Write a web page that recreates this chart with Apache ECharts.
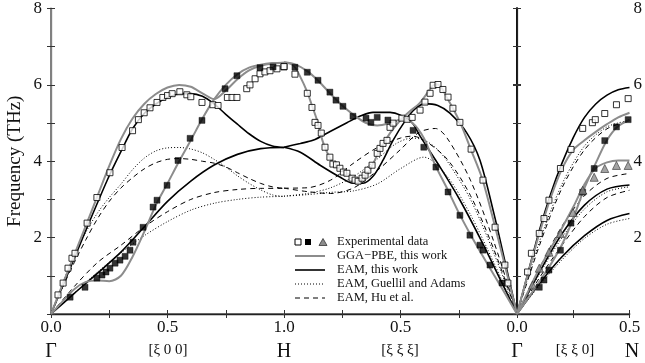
<!DOCTYPE html>
<html>
<head>
<meta charset="utf-8">
<script src="https://cdn.jsdelivr.net/npm/echarts@6/dist/echarts.min.js"></script>
<style>
  html, body { margin: 0; padding: 0; background: #fff; }
  #chart { width: 645px; height: 363px; }
</style>
</head>
<body>
<div id="chart"></div>
<script>
// ---- data: frequency (THz) vs reduced wave vector xi ----
// panel 1: Gamma -> H, [xi 0 0]
const ggaL_GH = [[0,0],[0.05,0.78],[0.1,1.55],[0.15,2.32],[0.2,3.1],[0.25,3.88],[0.3,4.58],[0.35,5.12],[0.4,5.5],[0.45,5.76],[0.5,5.93],[0.55,6.0],[0.6,5.95],[0.65,5.78],[0.7,5.63],[0.75,5.85],[0.8,6.15],[0.85,6.38],[0.9,6.5],[0.95,6.56],[1,6.58]];
const ggaT_GH = [[0,0],[0.05,0.33],[0.1,0.65],[0.15,0.84],[0.2,0.88],[0.25,0.86],[0.3,1.0],[0.35,1.5],[0.4,2.15],[0.45,2.85],[0.5,3.42],[0.55,4.0],[0.6,4.55],[0.65,5.12],[0.7,5.62],[0.75,6.0],[0.8,6.28],[0.85,6.45],[0.9,6.53],[0.95,6.57],[1,6.58]];
const eamL_GH = [[0,0],[0.05,0.73],[0.1,1.46],[0.15,2.2],[0.2,2.92],[0.25,3.62],[0.3,4.25],[0.35,4.85],[0.4,5.25],[0.45,5.5],[0.5,5.67],[0.55,5.76],[0.6,5.77],[0.65,5.7],[0.7,5.5],[0.75,5.23],[0.8,4.97],[0.85,4.72],[0.9,4.52],[0.95,4.4],[1,4.36]];
const eamT_GH = [[0,0],[0.1,0.54],[0.2,1.07],[0.3,1.62],[0.4,2.28],[0.5,2.95],[0.6,3.48],[0.7,3.9],[0.8,4.18],[0.9,4.33],[1,4.36]];
const guL_GH = [[0,0],[0.05,0.8],[0.1,1.55],[0.15,2.15],[0.2,2.65],[0.25,3.05],[0.3,3.4],[0.35,3.78],[0.4,4.08],[0.45,4.27],[0.5,4.35],[0.55,4.36],[0.6,4.32],[0.65,4.22],[0.7,4.05],[0.75,3.85],[0.8,3.62],[0.85,3.42],[0.9,3.25],[0.95,3.12],[1,3.08]];
const guT_GH = [[0,0],[0.1,0.55],[0.2,1.1],[0.3,1.6],[0.4,2.05],[0.5,2.42],[0.6,2.72],[0.7,2.9],[0.8,3.0],[0.9,3.06],[1,3.08]];
const huL_GH = [[0,0],[0.05,0.7],[0.1,1.35],[0.15,1.95],[0.2,2.5],[0.25,2.95],[0.3,3.3],[0.35,3.57],[0.4,3.8],[0.45,3.96],[0.5,4.05],[0.55,4.07],[0.6,4.05],[0.65,4.0],[0.7,3.95],[0.75,3.85],[0.8,3.7],[0.85,3.55],[0.9,3.42],[0.95,3.33],[1,3.29]];
const huT_GH = [[0,0],[0.1,0.72],[0.2,1.35],[0.3,1.8],[0.4,2.28],[0.5,2.68],[0.6,3.0],[0.7,3.18],[0.8,3.26],[0.9,3.29],[1,3.29]];
const expL_GH = [[0.03,0.5],[0.052,0.81],[0.073,1.2],[0.09,1.46],[0.103,1.59],[0.155,2.38],[0.197,3.05],[0.253,3.7],[0.305,4.36],[0.35,4.8],[0.375,5.09],[0.4,5.27],[0.425,5.4],[0.455,5.54],[0.48,5.67],[0.5,5.72],[0.52,5.77],[0.553,5.82],[0.583,5.74],[0.6,5.69],[0.648,5.54],[0.695,5.48],[0.717,5.46],[0.757,5.67],[0.777,5.67],[0.798,5.67],[0.84,5.9],[0.854,6.0],[0.876,6.16],[0.897,6.29],[0.918,6.34],[0.94,6.37],[0.97,6.42],[1,6.47]];
const expT_GH = [[0.082,0.44],[0.146,0.7],[0.197,0.94],[0.219,1.02],[0.236,1.1],[0.253,1.2],[0.275,1.33],[0.296,1.41],[0.318,1.51],[0.339,1.67],[0.352,1.88],[0.395,2.27],[0.438,2.8],[0.455,2.98],[0.498,3.37],[0.545,4.02],[0.597,4.6],[0.648,5.07],[0.747,5.9],[0.798,6.24],[0.897,6.45],[0.953,6.47]];

// panel 2: H -> Gamma, [xi xi xi]
const ggaL_HG = [[1,6.58],[0.96,6.5],[0.93,6.2],[0.9,5.8],[0.88,5.45],[0.86,5.1],[0.833,4.5],[0.8,4.05],[0.76,3.78],[0.73,3.68],[0.7,3.55],[0.674,3.5],[0.65,3.6],[0.62,3.9],[0.59,4.28],[0.545,4.73],[0.5,5.07],[0.46,5.3],[0.42,5.5],[0.38,5.82],[0.36,5.98],[0.34,6.0],[0.32,5.88],[0.3,5.65],[0.275,5.38],[0.24,4.95],[0.2,4.33],[0.15,3.55],[0.116,2.8],[0.08,1.95],[0.04,0.98],[0,0]];
const ggaT_HG = [[1,6.58],[0.95,6.52],[0.9,6.35],[0.85,6.08],[0.8,5.75],[0.75,5.45],[0.7,5.2],[0.65,5.0],[0.6,4.93],[0.55,4.98],[0.5,5.08],[0.45,5.0],[0.4,4.6],[0.35,3.88],[0.3,3.28],[0.25,2.65],[0.2,2.08],[0.15,1.55],[0.1,1.03],[0.05,0.52],[0,0]];
const eamL_HG = [[1,4.36],[0.93,4.23],[0.845,3.89],[0.76,3.58],[0.704,3.42],[0.661,3.42],[0.618,3.6],[0.575,4.02],[0.532,4.54],[0.48,5.05],[0.44,5.35],[0.395,5.5],[0.34,5.45],[0.288,5.25],[0.215,4.73],[0.159,4.02],[0.1,2.65],[0.05,1.33],[0,0]];
const eamT_HG = [[1,4.36],[0.93,4.46],[0.876,4.54],[0.8,4.78],[0.73,5.0],[0.67,5.18],[0.618,5.27],[0.545,5.27],[0.5,5.2],[0.45,5.0],[0.416,4.65],[0.33,3.84],[0.245,2.98],[0.15,1.88],[0.07,0.88],[0,0]];
const guL_HG = [[1,3.08],[0.9,3.15],[0.8,3.3],[0.7,3.6],[0.6,4.05],[0.52,4.45],[0.45,4.6],[0.4,4.55],[0.35,4.35],[0.3,4.0],[0.2,3.0],[0.1,1.6],[0,0]];
const guT_HG = [[1,3.08],[0.9,3.12],[0.8,3.18],[0.7,3.22],[0.6,3.4],[0.5,3.8],[0.4,4.1],[0.3,3.6],[0.2,2.6],[0.1,1.35],[0,0]];
const huL_HG = [[1,3.29],[0.9,3.3],[0.8,3.5],[0.7,3.95],[0.6,4.35],[0.5,4.6],[0.45,4.65],[0.4,4.55],[0.3,4.05],[0.2,3.1],[0.1,1.7],[0,0]];
const huT_HG = [[1,3.29],[0.9,3.2],[0.8,3.15],[0.7,3.3],[0.6,3.75],[0.5,4.3],[0.42,4.75],[0.35,4.85],[0.3,4.6],[0.2,3.5],[0.1,1.9],[0,0]];
const expL_HG = [[1,6.47],[0.953,6.27],[0.9,5.77],[0.88,5.4],[0.867,5.01],[0.854,4.93],[0.84,4.73],[0.824,4.36],[0.803,4.1],[0.79,3.92],[0.775,3.9],[0.76,3.81],[0.745,3.71],[0.73,3.68],[0.708,3.55],[0.695,3.5],[0.682,3.47],[0.665,3.55],[0.652,3.63],[0.64,3.76],[0.622,3.89],[0.6,4.2],[0.588,4.33],[0.575,4.46],[0.558,4.54],[0.545,4.88],[0.532,4.99],[0.494,5.12],[0.472,5.09],[0.45,5.14],[0.416,5.33],[0.395,5.54],[0.373,5.77],[0.36,5.98],[0.339,6.0],[0.318,5.87],[0.296,5.67],[0.275,5.38],[0.245,5.01],[0.197,4.31],[0.146,3.5],[0.094,2.27],[0.052,1.28],[0.039,0.81]];
const expT_HG = [[0.953,6.45],[0.9,6.32],[0.854,6.11],[0.803,5.8],[0.777,5.59],[0.747,5.43],[0.704,5.17],[0.648,5.12],[0.627,5.01],[0.6,5.14],[0.554,5.07],[0.446,4.8],[0.4,4.36],[0.348,3.84],[0.296,3.19],[0.245,2.58],[0.202,2.06],[0.159,1.8],[0.146,1.67],[0.116,1.28],[0.064,0.81]];

// panel 3: Gamma -> N, [xi xi 0]
const ggaL_GN = [[0,0],[0.05,1.08],[0.1,2.12],[0.15,3.05],[0.2,3.8],[0.25,4.3],[0.3,4.55],[0.35,4.77],[0.4,4.97],[0.45,5.15],[0.5,5.27]];
const ggaT2_GN = [[0,0],[0.05,0.42],[0.1,0.85],[0.15,1.3],[0.2,1.82],[0.25,2.5],[0.3,3.3],[0.35,3.95],[0.4,4.55],[0.45,4.92],[0.5,5.08]];
const ggaT1_GN = [[0,0],[0.05,0.6],[0.1,1.2],[0.15,1.72],[0.2,2.25],[0.25,2.8],[0.3,3.4],[0.35,3.82],[0.4,3.97],[0.45,4.02],[0.5,4.02]];
const eamL_GN = [[0,0],[0.05,1.1],[0.1,2.2],[0.15,3.15],[0.2,3.95],[0.25,4.62],[0.3,5.15],[0.35,5.5],[0.4,5.73],[0.45,5.87],[0.5,5.93]];
const eamT2_GN = [[0,0],[0.1,1.1],[0.2,2.1],[0.3,2.85],[0.4,3.27],[0.5,3.38]];
const eamT1_GN = [[0,0],[0.1,0.8],[0.2,1.5],[0.3,2.05],[0.4,2.45],[0.5,2.63]];
const guL_GN = [[0,0],[0.1,1.9],[0.2,3.4],[0.3,4.4],[0.4,4.9],[0.5,5.07]];
const guT2_GN = [[0,0],[0.1,1.05],[0.2,2.0],[0.3,2.75],[0.4,3.2],[0.5,3.33]];
const guT1_GN = [[0,0],[0.1,0.75],[0.2,1.42],[0.3,1.98],[0.4,2.35],[0.5,2.5]];
const huL_GN = [[0,0],[0.1,1.8],[0.2,3.3],[0.3,4.3],[0.4,4.85],[0.5,5.05]];
const huT2_GN = [[0,0],[0.1,1.2],[0.2,2.3],[0.3,3.1],[0.4,3.55],[0.5,3.68]];
const huT1_GN = [[0,0],[0.1,0.95],[0.2,1.8],[0.3,2.55],[0.4,3.05],[0.5,3.24]];
const expL_GN = [[0.047,1.1],[0.064,1.59],[0.099,2.11],[0.12,2.5],[0.142,2.98],[0.193,3.81],[0.24,4.31],[0.292,4.86],[0.335,5.01],[0.348,5.09],[0.39,5.25],[0.442,5.48],[0.494,5.64]];
const expT2_GN = [[0.099,0.7],[0.12,0.89],[0.142,1.15],[0.193,1.67],[0.24,2.38],[0.292,3.19],[0.343,3.81],[0.39,4.54],[0.442,4.9],[0.494,5.09]];
const expT1_GN = [[0.069,0.76],[0.099,1.2],[0.142,1.62],[0.193,2.11],[0.249,2.66],[0.292,3.24],[0.343,3.58],[0.39,3.81],[0.442,3.89],[0.494,3.89]];

const yTicks = [2, 4, 6, 8];
const FONT = '"Liberation Serif", "DejaVu Serif", serif';

// ---- styles ----
const GGA = { color: '#8c8c8c', width: 2 };
const EAM = { color: '#000', width: 1.6 };
const GUE = { color: '#000', width: 1, type: [1, 2] };
const HU = { color: '#000', width: 1, type: [5, 4] };

const grids = [
  { left: 51, top: 8, width: 233, height: 306 },
  { left: 284, top: 8, width: 233, height: 306 },
  { left: 517, top: 8, width: 116, height: 306 }
];

// bottom + top x axes for each panel
const panelX = [
  { max: 1, inverse: false, labels: [0, 0.5] },
  { max: 1, inverse: true, labels: [1, 0.5] },
  { max: 0.5, inverse: false, labels: [0, 0.5] }
];
const xAxis = [];
panelX.forEach((p, i) => {
  xAxis.push({
    type: 'value', gridIndex: i, min: 0, max: p.max, interval: 0.25, inverse: p.inverse,
    position: 'bottom',
    axisLine: { lineStyle: { color: '#808080', width: 2 } },
    axisTick: { inside: true, length: 4, lineStyle: { color: '#333' } },
    axisLabel: {
      showMinLabel: true, showMaxLabel: true, margin: 5,
      color: '#111', fontFamily: FONT, fontSize: 17,
      formatter: v => p.labels.indexOf(v) >= 0 ? v.toFixed(1) : ''
    },
    splitLine: { show: false }
  });
  xAxis.push({
    type: 'value', gridIndex: i, min: 0, max: p.max, interval: 0.25, inverse: p.inverse,
    position: 'top',
    axisLine: { lineStyle: { color: '#222', width: 1.3 } },
    axisTick: { inside: true, length: 4, lineStyle: { color: '#333' } },
    axisLabel: { show: false },
    splitLine: { show: false }
  });
});

// left + right y axes for each panel
const edgeStyle = [
  [{ color: '#222', width: 1.2 }, { color: '#808080', width: 2 }],
  [{ color: '#808080', width: 2 }, { color: '#111', width: 1.6 }],
  [{ color: '#111', width: 1.6 }, { color: '#222', width: 1.2 }]
];
const yAxis = [];
grids.forEach((g, i) => {
  ['left', 'right'].forEach((pos, k) => {
    const labelled = (i === 0 && k === 0) || (i === 2 && k === 1);
    yAxis.push({
      type: 'value', gridIndex: i, min: 0, max: 8, interval: 1, position: pos,
      name: (i === 0 && k === 0) ? 'Frequency (THz)' : '',
      nameLocation: 'middle', nameGap: 26, nameRotate: 90,
      nameTextStyle: { fontFamily: FONT, fontSize: 19, color: '#111' },
      axisLine: { show: true, lineStyle: edgeStyle[i][k] },
      axisTick: { inside: true, length: 4, lineStyle: { color: '#333' } },
      axisLabel: {
        show: labelled, margin: k === 0 ? 9 : 4, color: '#111', fontFamily: FONT, fontSize: 17,
        formatter: v => yTicks.indexOf(v) >= 0 ? String(v) : ''
      },
      splitLine: { show: false }
    });
  });
});

function line(data, panel, style) {
  return {
    type: 'line', xAxisIndex: panel * 2, yAxisIndex: panel * 2, data: data,
    smooth: 0.3, symbol: 'none', lineStyle: style, silent: true, z: 2
  };
}
function points(data, panel, kind) {
  const s = {
    open: { symbol: 'rect', size: 6, item: { color: '#fff', borderColor: '#000', borderWidth: 1 } },
    filled: { symbol: 'rect', size: 6, item: { color: '#000', borderColor: '#000', borderWidth: 0.5 } },
    tri: { symbol: 'triangle', size: 8, item: { color: '#8c8c8c', borderColor: '#333', borderWidth: 0.8 } }
  }[kind];
  return {
    type: 'scatter', xAxisIndex: panel * 2, yAxisIndex: panel * 2, data: data,
    symbol: s.symbol, symbolSize: s.size, itemStyle: s.item, silent: true, z: 5
  };
}

const series = [
  line(guL_GH, 0, GUE), line(guT_GH, 0, GUE), line(huL_GH, 0, HU), line(huT_GH, 0, HU),
  line(eamL_GH, 0, EAM), line(eamT_GH, 0, EAM), line(ggaL_GH, 0, GGA), line(ggaT_GH, 0, GGA),
  points(expL_GH, 0, 'open'), points(expT_GH, 0, 'filled'),

  line(guL_HG, 1, GUE), line(guT_HG, 1, GUE), line(huL_HG, 1, HU), line(huT_HG, 1, HU),
  line(eamL_HG, 1, EAM), line(eamT_HG, 1, EAM), line(ggaL_HG, 1, GGA), line(ggaT_HG, 1, GGA),
  points(expL_HG, 1, 'open'), points(expT_HG, 1, 'filled'),

  line(guL_GN, 2, GUE), line(guT2_GN, 2, GUE), line(guT1_GN, 2, GUE),
  line(huL_GN, 2, HU), line(huT2_GN, 2, HU), line(huT1_GN, 2, HU),
  line(eamL_GN, 2, EAM), line(eamT2_GN, 2, EAM), line(eamT1_GN, 2, EAM),
  line(ggaL_GN, 2, GGA), line(ggaT2_GN, 2, GGA), line(ggaT1_GN, 2, GGA),
  points(expL_GN, 2, 'open'), points(expT2_GN, 2, 'filled'), points(expT1_GN, 2, 'tri')
];

// legend and point labels drawn as graphics
const legendRows = [
  { text: 'Experimental data', style: null },
  { text: 'GGA\u2212PBE, this work', style: GGA },
  { text: 'EAM, this work', style: EAM },
  { text: 'EAM, Guellil and Adams', style: GUE },
  { text: 'EAM, Hu et al.', style: HU }
];
const graphic = [];
legendRows.forEach((r, i) => {
  const y = 242 + i * 14;
  graphic.push({ type: 'text', left: 337, top: y - 7,
    style: { text: r.text, font: '12.5px ' + FONT, fill: '#111' } });
  if (r.style) {
    graphic.push({ type: 'line', shape: { x1: 295, y1: y, x2: 325, y2: y },
      style: { stroke: r.style.color, lineWidth: r.style.width, lineDash: r.style.type || null } });
  }
});
graphic.push({ type: 'rect', shape: { x: 295, y: 239, width: 6, height: 6 }, style: { fill: '#fff', stroke: '#000', lineWidth: 1 } });
graphic.push({ type: 'rect', shape: { x: 305, y: 239, width: 6, height: 6 }, style: { fill: '#000' } });
graphic.push({ type: 'polygon', shape: { points: [[319, 245.5], [327, 245.5], [323, 238.5]] }, style: { fill: '#8c8c8c', stroke: '#333', lineWidth: 0.8 } });

const pointLabels = [
  { t: '\u0393', x: 51, s: 20 }, { t: '[\u03be 0 0]', x: 168, s: 15 }, { t: 'H', x: 284, s: 20 },
  { t: '[\u03be \u03be \u03be]', x: 400, s: 15 }, { t: '\u0393', x: 517, s: 20 },
  { t: '[\u03be \u03be 0]', x: 575, s: 15 }, { t: 'N', x: 632, s: 20 }
];
pointLabels.forEach(p => {
  graphic.push({ type: 'text', x: p.x, y: p.s > 15 ? 352 : 350,
    style: { text: p.t, font: p.s + 'px ' + FONT, fill: '#111', textAlign: 'center', textVerticalAlign: 'middle' } });
});

const chart = echarts.init(document.getElementById('chart'), null, { renderer: 'canvas' });
chart.setOption({
  animation: false,
  backgroundColor: '#fff',
  grid: grids,
  xAxis: xAxis,
  yAxis: yAxis,
  series: series,
  graphic: graphic
});
</script>
</body>
</html>
